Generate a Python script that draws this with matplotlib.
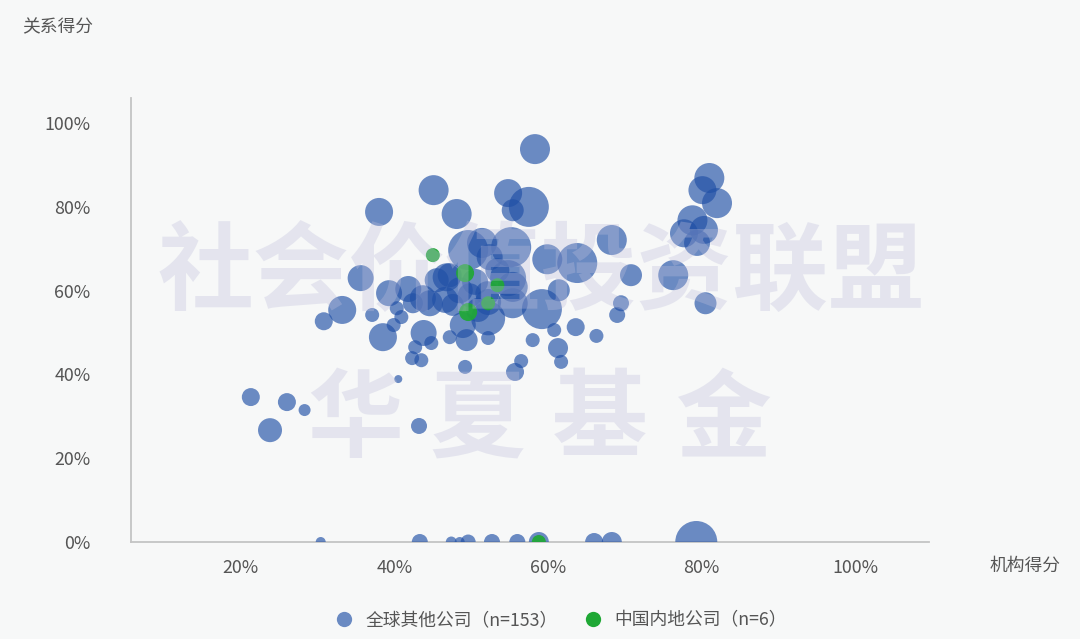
import matplotlib
matplotlib.use("Agg")
import matplotlib.pyplot as plt
from matplotlib.lines import Line2D

plt.rcParams['font.family'] = ['Noto Sans CJK SC', 'DejaVu Sans']

# ---- data: 全球其他公司 (机构得分 %, 关系得分 %, 规模) ----
other_x = [21.3, 23.8, 26.0, 28.3, 30.8, 33.2, 35.6, 37.1, 38.0, 38.5,
           40.5, 43.2, 45.1, 48.1, 58.3, 54.8, 57.5, 55.4, 39.3, 41.8,
           43.7, 42.4, 45.5, 40.3, 40.9, 39.9, 43.8, 42.7, 44.8, 42.3,
           43.5, 47.2, 49.4, 52.2, 49.2, 49.6, 51.4, 55.2, 52.4, 59.9,
           63.8, 68.3, 70.8, 76.3, 81.0, 80.1, 82.0, 78.8, 77.7, 80.3,
           79.4, 80.5, 59.2, 61.4, 69.5, 69.0, 63.6, 66.3, 60.8, 58.0,
           61.3, 61.7, 56.5, 55.7, 46.8, 54.8, 55.4, 52.2, 47.6, 52.2,
           55.4, 47.2, 50.5, 44.6, 52.1, 48.9, 46.6, 49.8, 53.4, 48.5,
           50.9,
           30.4, 43.3, 47.4, 48.5, 49.6, 52.7, 56.0, 58.8, 66.0, 68.3, 79.3]
other_y = [34.6, 26.7, 33.4, 31.5, 52.7, 55.4, 63.0, 54.2, 78.8, 48.9,
           38.9, 27.7, 84.0, 78.3, 93.8, 83.3, 80.0, 79.2, 59.4, 60.4,
           58.2, 57.0, 62.5, 55.8, 53.7, 51.8, 49.9, 46.5, 47.5, 43.9,
           43.4, 48.9, 48.2, 48.7, 41.8, 69.7, 71.4, 70.4, 68.0, 67.5,
           66.6, 72.1, 63.7, 63.7, 86.9, 84.0, 80.9, 76.8, 73.7, 74.5,
           71.4, 57.0, 55.6, 60.1, 57.0, 54.2, 51.3, 49.2, 50.6, 48.2,
           46.3, 43.0, 43.2, 40.6, 63.2, 63.0, 60.9, 57.3, 56.6, 53.4,
           57.0, 63.7, 62.1, 57.0, 59.4, 51.8, 57.8, 58.9, 64.9, 60.1,
           55.4,
           0, 0, 0, 0, 0, 0, 0, 0, 0, 0, 0]
other_size = [81, 144, 81, 36, 81, 196, 169, 49, 196, 196,
              16, 64, 225, 225, 225, 196, 400, 121, 169, 169,
              169, 100, 144, 49, 49, 49, 169, 49, 49, 49,
              49, 49, 121, 49, 49, 400, 225, 400, 169, 225,
              400, 225, 121, 225, 225, 196, 225, 225, 196, 196,
              169, 121, 400, 121, 64, 64, 81, 49, 49, 49,
              100, 49, 49, 81, 196, 324, 225, 169, 121, 289,
              225, 144, 169, 169, 144, 169, 169, 144, 144, 169,
              144,
              25, 64, 30, 25, 56, 64, 64, 100, 81, 100, 441]

# ---- data: 中国内地公司 ----
cn_x = [45.0, 49.2, 53.4, 52.2, 49.6, 58.8]
cn_y = [68.5, 64.2, 61.3, 57.0, 54.9, 0]
cn_size = [49, 81, 49, 49, 81, 49]

x_ticks = [20, 40, 60, 80, 100]
y_ticks = [0, 20, 40, 60, 80, 100]
label_other = '全球其他公司（n=153）'
label_cn = '中国内地公司（n=6）'
wm_line1 = '社会价值投资联盟'
wm_line2 = ['华', '夏', '基', '金']

BG = '#f7f8f8'
BLUE = '#1f4fa6'
GREEN = '#1fa835'
TXT = '#555555'
AXC = '#c4c4c4'
FS = 12.8

fig = plt.figure(figsize=(10.8, 6.39), dpi=100, facecolor=BG)
ax = fig.add_axes([131/1080, 1-542/639, (929-131)/1080, (542-98)/639])
ax.set_facecolor(BG)

k = (2*0.72)**2
ax.scatter(other_x, other_y, s=[v*k for v in other_size], color=BLUE,
           alpha=0.65, linewidths=0, zorder=2)
ax.scatter(cn_x, cn_y, s=[v*k for v in cn_size], color=GREEN,
           alpha=0.92, linewidths=0, zorder=3)

ax.set_xlim(5.7, 109.6)
ax.set_ylim(0, 106)
ax.set_xticks(x_ticks)
ax.set_xticklabels([f'{t}%' for t in x_ticks])
ax.set_yticks(y_ticks)
ax.set_yticklabels([f'{t}%' for t in y_ticks])
ax.tick_params(axis='both', length=0, labelsize=FS, labelcolor=TXT)
ax.tick_params(axis='y', pad=29)
ax.tick_params(axis='x', pad=12)
for sp in ['top', 'right']:
    ax.spines[sp].set_visible(False)
for sp in ['left', 'bottom']:
    ax.spines[sp].set_color(AXC)
    ax.spines[sp].set_linewidth(1.3)
    ax.spines[sp].set_zorder(1)

fig.text(22/1080, 1-27/639, '关系得分', fontsize=FS, color=TXT, ha='left', va='center')
fig.text(990/1080, 1-566/639, '机构得分', fontsize=FS, color=TXT, ha='left', va='center')

# watermark
wm_kw = dict(fontsize=69, color='#bebedb', alpha=0.33, ha='center', va='center',
             fontweight='bold', zorder=10)
fig.text(541/1080, 1-275/639, wm_line1, **wm_kw)
for i, ch in enumerate(wm_line2):
    fig.text((355 + 122.5*i)/1080, 1-421/639, ch, **wm_kw)

handles = [Line2D([], [], marker='o', linestyle='none', markersize=11,
                  markerfacecolor=BLUE, markeredgewidth=0, alpha=0.65),
           Line2D([], [], marker='o', linestyle='none', markersize=11,
                  markerfacecolor=GREEN, markeredgewidth=0)]
fig.legend(handles, [label_other, label_cn], loc='center',
           bbox_to_anchor=(561/1080, 1-620/639), ncol=2, frameon=False,
           fontsize=FS, labelcolor=TXT, handletextpad=0.7, columnspacing=1.45,
           handlelength=1.0)

fig.savefig('out.png', dpi=100, facecolor=BG)
